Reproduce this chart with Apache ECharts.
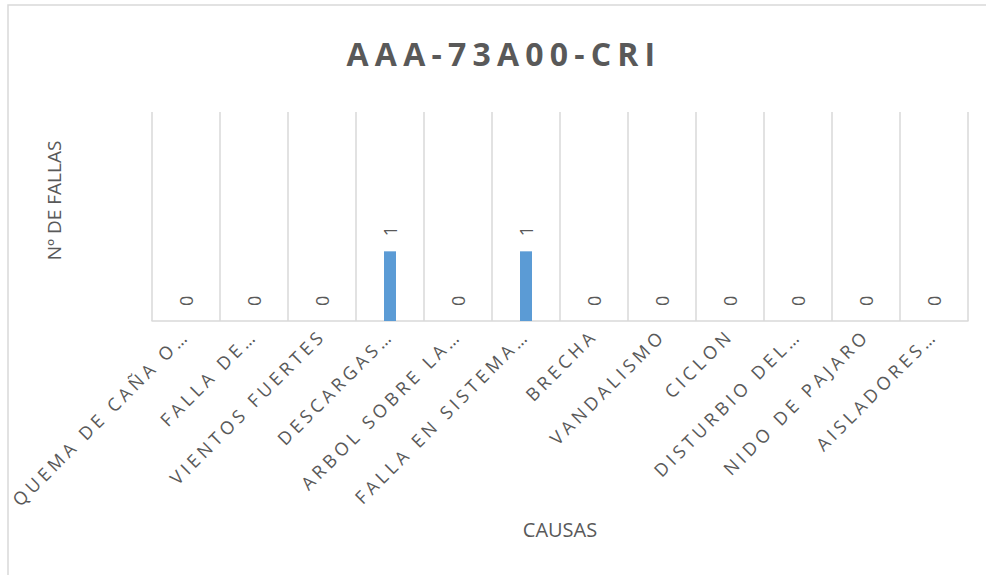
<!DOCTYPE html>
<html>
<head>
<meta charset="utf-8">
<script src="https://cdn.jsdelivr.net/npm/echarts@6/dist/echarts.min.js"></script>
<style>
html,body{margin:0;padding:0;background:#fff;}
#main{width:986px;height:575px;}
</style>
</head>
<body>
<div id="main"></div>
<script>
const titleText = 'AAA-73A00-CRI';
const categories = ['QUEMA DE CAÑA O…','FALLA DE…','VIENTOS FUERTES','DESCARGAS…','ARBOL SOBRE LA…','FALLA EN SISTEMA…','BRECHA','VANDALISMO','CICLON','DISTURBIO DEL…','NIDO DE PAJARO','AISLADORES…'];
const fallas = [0,0,0,1,0,1,0,0,0,0,0,0];
const yName = 'Nº DE FALLAS';
const xName = 'CAUSAS';

const spaced = {};
spaced[titleText] = '6.2px';
categories.forEach(c => spaced[c] = '4px');

const chart = echarts.init(document.getElementById('main'), null, {renderer:'svg'});
chart.setOption({
  animation:false,
  backgroundColor:'#fff',
  title:{text:titleText,left:499,top:32,textAlign:'center',
    textStyle:{fontFamily:'Open Sans',fontSize:32,fontWeight:'bold',color:'#595959'}},
  graphic:[{type:'rect',shape:{x:8,y:5,width:1100,height:700},
    style:{fill:'none',stroke:'#d9d9d9',lineWidth:1.5},silent:true}],
  grid:{left:152,right:18,top:112,bottom:254,containLabel:false},
  xAxis:{type:'category',data:categories,
    name:xName,nameLocation:'middle',nameGap:198,
    nameTextStyle:{fontFamily:'Open Sans',fontSize:20,color:'#595959'},
    axisLine:{lineStyle:{color:'#d9d9d9',width:1.5}},
    axisTick:{show:false},
    splitLine:{show:true,interval:0,lineStyle:{color:'#d9d9d9',width:1.5}},
    axisLabel:{interval:0,rotate:45,margin:11,fontFamily:'Open Sans',fontSize:18,color:'#595959'}},
  yAxis:{type:'value',min:0,max:3,
    name:yName,nameLocation:'middle',nameGap:89,
    nameTextStyle:{fontFamily:'Open Sans',fontSize:19,color:'#595959',padding:[0,0,0,32]},
    axisLine:{show:false},axisTick:{show:false},axisLabel:{show:false},splitLine:{show:false}},
  series:[{type:'bar',data:fallas,barWidth:12,
    itemStyle:{color:'#5B9BD5'},
    label:{show:true,position:'top',rotate:90,align:'left',verticalAlign:'middle',distance:15,
      fontFamily:'Open Sans',fontSize:18,color:'#595959'}}]
});

function applySpacing(){
  document.querySelectorAll('#main text').forEach(t=>{
    const s = spaced[t.textContent];
    if (s) t.style.letterSpacing = s;
  });
}
chart.on('finished', applySpacing);
applySpacing();
</script>
</body>
</html>
